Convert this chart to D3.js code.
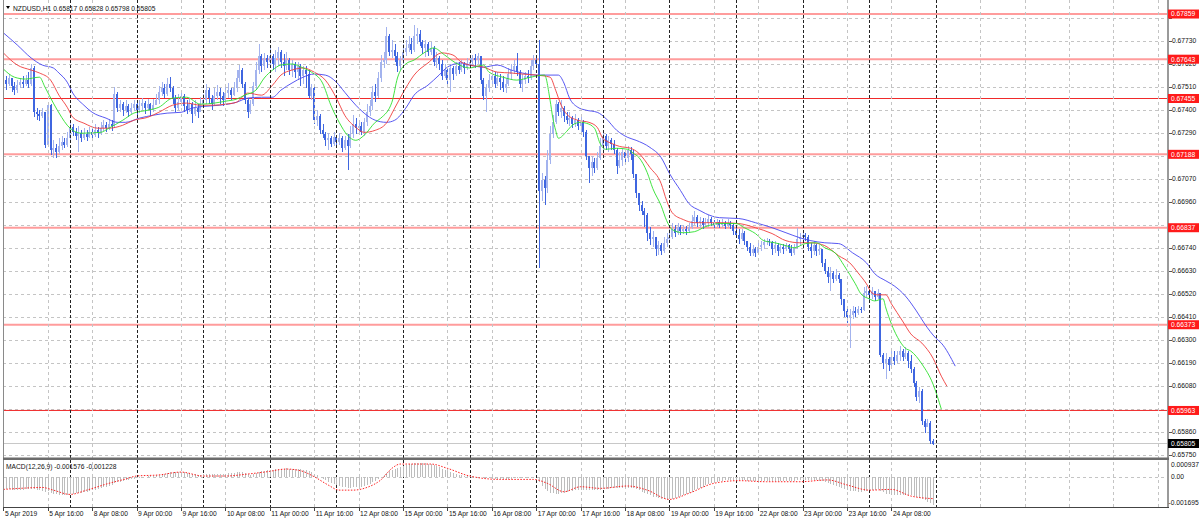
<!DOCTYPE html>
<html><head><meta charset="utf-8">
<script src="https://cdn.jsdelivr.net/npm/d3@7"></script>
<style>body{margin:0;background:#fff;overflow:hidden}svg{display:block;font-family:"Liberation Sans",Arial,sans-serif}</style>
</head><body>
<svg id="c" width="1200" height="523"></svg>
<script>
// ---------- DATA ----------
const symbolTitle = "NZDUSD,H1  0.65817 0.65828 0.65798 0.65805";
const macdTitle = "MACD(12,26,9) -0.001576 -0.001228";
const timeLabels = ["5 Apr 2019","5 Apr 16:00","8 Apr 08:00","9 Apr 00:00","9 Apr 16:00","10 Apr 08:00","11 Apr 00:00","11 Apr 16:00","12 Apr 08:00","15 Apr 00:00","15 Apr 16:00","16 Apr 08:00","17 Apr 00:00","17 Apr 16:00","18 Apr 08:00","19 Apr 00:00","19 Apr 16:00","22 Apr 08:00","23 Apr 00:00","23 Apr 16:00","24 Apr 08:00"];
const timeLabelBars = [0,16,32,48,64,80,96,112,128,144,160,176,192,208,224,240,256,272,288,304,320];
const gridBars = [16,32,48,64,80,96,112,128,144,160,176,192,208,224,240,256,272,288,304,320,336,352,368,384,400,416];
const daySeparatorBars = [24,48,72,96,120,144,168,192,216,240,264,288,312,336];
const priceTicks = ["0.67840","0.67730","0.67620","0.67510","0.67400","0.67290","0.67180","0.67070","0.66960","0.66850","0.66740","0.66630","0.66520","0.66410","0.66300","0.66190","0.66080","0.65970","0.65860","0.65750"];
const levels = [0.67859,0.67643,0.67455,0.67188,0.66837,0.66373,0.65963];
const levelKinds = ["soft","soft","hard","soft","soft","soft","hard"];
const lastPrice = 0.65805;
const macdTicks = ["0.000937","0.00","-0.001695"];
const macdTickVals = [0.000937,0,-0.001695];

const firstOpen = 0.67524;
const closes = [
0.67543,0.67524,0.67553,0.67514,0.67495,0.67519,0.67533,0.67524,0.67543,0.67524,
0.67601,0.67389,0.67380,0.67370,0.67389,0.67231,0.67423,0.67207,0.67217,0.67197,
0.67226,0.67245,0.67231,0.67265,0.67317,0.67293,0.67274,0.67289,0.67265,0.67284,
0.67269,0.67293,0.67279,0.67303,0.67289,0.67313,0.67327,0.67313,0.67332,0.67322,
0.67476,0.67409,0.67428,0.67399,0.67418,0.67389,0.67409,0.67428,0.67399,0.67418,
0.67433,0.67409,0.67428,0.67399,0.67423,0.67447,0.67485,0.67505,0.67476,0.67524,
0.67505,0.67457,0.67409,0.67437,0.67466,0.67418,0.67399,0.67428,0.67380,0.67409,
0.67389,0.67428,0.67447,0.67495,0.67457,0.67428,0.67466,0.67485,0.67466,0.67447,
0.67481,0.67495,0.67471,0.67505,0.67553,0.67591,0.67524,0.67447,0.67389,0.67428,
0.67514,0.67591,0.67658,0.67610,0.67649,0.67629,0.67658,0.67620,0.67649,0.67677,
0.67629,0.67610,0.67639,0.67591,0.67620,0.67581,0.67610,0.67562,0.67591,0.67572,
0.67466,0.67505,0.67351,0.67370,0.67303,0.67284,0.67255,0.67265,0.67236,0.67269,
0.67245,0.67265,0.67217,0.67255,0.67226,0.67284,0.67332,0.67313,0.67322,0.67293,
0.67341,0.67389,0.67418,0.67485,0.67466,0.67553,0.67629,0.67639,0.67754,0.67677,
0.67687,0.67658,0.67610,0.67639,0.67677,0.67697,0.67716,0.67687,0.67754,0.67764,
0.67725,0.67697,0.67716,0.67677,0.67697,0.67629,0.67649,0.67620,0.67562,0.67591,
0.67543,0.67601,0.67572,0.67610,0.67591,0.67620,0.67601,0.67620,0.67629,0.67649,
0.67639,0.67658,0.67543,0.67466,0.67505,0.67543,0.67562,0.67524,0.67553,0.67533,
0.67505,0.67524,0.67572,0.67591,0.67610,0.67581,0.67524,0.67543,0.67562,0.67553,
0.67610,0.67639,0.67620,0.67015,0.67063,0.67025,0.67159,0.67284,0.67341,0.67428,
0.67389,0.67409,0.67370,0.67351,0.67361,0.67332,0.67351,0.67322,0.67341,0.67293,
0.67178,0.67121,0.67149,0.67121,0.67169,0.67226,0.67274,0.67226,0.67255,0.67236,
0.67207,0.67130,0.67159,0.67197,0.67169,0.67207,0.67188,0.67092,0.67005,0.66948,
0.66919,0.66900,0.66813,0.66785,0.66794,0.66737,0.66756,0.66727,0.66765,0.66785,
0.66794,0.66833,0.66813,0.66842,0.66823,0.66833,0.66823,0.66842,0.66871,0.66890,
0.66861,0.66871,0.66852,0.66861,0.66881,0.66861,0.66852,0.66866,0.66852,0.66861,
0.66847,0.66861,0.66852,0.66823,0.66804,0.66785,0.66813,0.66775,0.66746,0.66717,
0.66737,0.66717,0.66746,0.66756,0.66770,0.66775,0.66770,0.66737,0.66756,0.66727,
0.66746,0.66737,0.66756,0.66737,0.66717,0.66746,0.66785,0.66794,0.66804,0.66794,
0.66746,0.66727,0.66756,0.66727,0.66737,0.66669,0.66631,0.66602,0.66621,0.66593,
0.66612,0.66593,0.66497,0.66439,0.66410,0.66420,0.66439,0.66429,0.66449,0.66444,
0.66525,0.66535,0.66516,0.66535,0.66506,0.66525,0.66228,0.66189,0.66209,0.66180,
0.66218,0.66199,0.66228,0.66247,0.66218,0.66237,0.66199,0.66161,0.66093,0.66026,
0.66055,0.65911,0.65882,0.65901,0.65817,0.65805];
const highs = [
0.67572,0.67562,0.67572,0.67553,0.67533,0.67543,0.67553,0.67562,0.67567,0.67581,
0.67620,0.67610,0.67409,0.67399,0.67409,0.67389,0.67437,0.67428,0.67255,0.67236,
0.67265,0.67274,0.67265,0.67293,0.67341,0.67332,0.67313,0.67322,0.67303,0.67313,
0.67303,0.67317,0.67308,0.67332,0.67317,0.67341,0.67351,0.67341,0.67356,0.67351,
0.67509,0.67485,0.67447,0.67437,0.67447,0.67428,0.67433,0.67447,0.67437,0.67447,
0.67457,0.67442,0.67452,0.67433,0.67452,0.67476,0.67514,0.67533,0.67524,0.67553,
0.67557,0.67514,0.67471,0.67476,0.67495,0.67476,0.67447,0.67457,0.67437,0.67447,
0.67428,0.67461,0.67476,0.67524,0.67505,0.67471,0.67505,0.67519,0.67505,0.67485,
0.67514,0.67529,0.67505,0.67533,0.67591,0.67615,0.67601,0.67533,0.67457,0.67447,
0.67533,0.67629,0.67716,0.67668,0.67673,0.67663,0.67697,0.67668,0.67687,0.67701,
0.67687,0.67668,0.67677,0.67649,0.67639,0.67629,0.67629,0.67620,0.67610,0.67610,
0.67591,0.67524,0.67514,0.67399,0.67380,0.67332,0.67293,0.67289,0.67274,0.67293,
0.67279,0.67289,0.67274,0.67274,0.67284,0.67322,0.67375,0.67361,0.67351,0.67341,
0.67361,0.67428,0.67447,0.67514,0.67524,0.67581,0.67663,0.67677,0.67797,0.67764,
0.67735,0.67716,0.67677,0.67658,0.67716,0.67735,0.67754,0.67745,0.67807,0.67793,
0.67783,0.67735,0.67735,0.67725,0.67725,0.67706,0.67677,0.67658,0.67639,0.67620,
0.67601,0.67620,0.67610,0.67629,0.67629,0.67639,0.67629,0.67649,0.67658,0.67663,
0.67668,0.67673,0.67658,0.67553,0.67524,0.67572,0.67591,0.67581,0.67581,0.67572,
0.67562,0.67553,0.67601,0.67620,0.67639,0.67673,0.67591,0.67572,0.67581,0.67591,
0.67639,0.67663,0.67658,0.67735,0.67101,0.67082,0.67207,0.67322,0.67375,0.67447,
0.67437,0.67447,0.67418,0.67389,0.67389,0.67370,0.67380,0.67361,0.67370,0.67351,
0.67303,0.67178,0.67178,0.67169,0.67197,0.67265,0.67303,0.67284,0.67274,0.67265,
0.67255,0.67217,0.67197,0.67217,0.67207,0.67226,0.67221,0.67207,0.67092,0.67005,
0.66967,0.66929,0.66909,0.66842,0.66823,0.66794,0.66775,0.66765,0.66794,0.66813,
0.66833,0.66861,0.66852,0.66861,0.66852,0.66852,0.66847,0.66861,0.66900,0.66919,
0.66900,0.66890,0.66885,0.66885,0.66900,0.66890,0.66876,0.66881,0.66876,0.66881,
0.66871,0.66881,0.66871,0.66861,0.66842,0.66833,0.66833,0.66823,0.66775,0.66765,
0.66756,0.66746,0.66765,0.66775,0.66785,0.66789,0.66785,0.66775,0.66775,0.66765,
0.66761,0.66761,0.66765,0.66761,0.66756,0.66761,0.66837,0.66813,0.66823,0.66813,
0.66804,0.66765,0.66775,0.66761,0.66756,0.66737,0.66689,0.66650,0.66650,0.66631,
0.66641,0.66621,0.66593,0.66497,0.66458,0.66449,0.66463,0.66458,0.66463,0.66458,
0.66554,0.66559,0.66545,0.66554,0.66535,0.66545,0.66525,0.66237,0.66237,0.66218,
0.66247,0.66247,0.66247,0.66271,0.66257,0.66266,0.66247,0.66228,0.66170,0.66103,
0.66074,0.66065,0.65921,0.65921,0.65911,0.65828];
const lows = [
0.67505,0.67495,0.67514,0.67485,0.67471,0.67481,0.67505,0.67505,0.67514,0.67505,
0.67514,0.67365,0.67351,0.67346,0.67361,0.67217,0.67221,0.67183,0.67169,0.67169,
0.67188,0.67207,0.67217,0.67221,0.67255,0.67274,0.67255,0.67197,0.67245,0.67255,
0.67250,0.67265,0.67260,0.67269,0.67265,0.67279,0.67298,0.67293,0.67303,0.67298,
0.67313,0.67389,0.67389,0.67370,0.67385,0.67365,0.67380,0.67394,0.67375,0.67385,
0.67399,0.67380,0.67399,0.67370,0.67389,0.67423,0.67428,0.67466,0.67457,0.67466,
0.67485,0.67428,0.67389,0.67399,0.67418,0.67389,0.67380,0.67389,0.67337,0.67370,
0.67361,0.67399,0.67409,0.67428,0.67428,0.67399,0.67418,0.67447,0.67428,0.67418,
0.67437,0.67457,0.67447,0.67466,0.67485,0.67533,0.67505,0.67428,0.67361,0.67380,
0.67418,0.67495,0.67572,0.67581,0.67591,0.67601,0.67610,0.67591,0.67581,0.67610,
0.67601,0.67562,0.67591,0.67567,0.67557,0.67553,0.67543,0.67514,0.67524,0.67505,
0.67457,0.67447,0.67332,0.67322,0.67284,0.67265,0.67226,0.67207,0.67221,0.67226,
0.67217,0.67231,0.67197,0.67207,0.67111,0.67217,0.67265,0.67284,0.67293,0.67279,
0.67274,0.67322,0.67370,0.67399,0.67437,0.67457,0.67533,0.67601,0.67620,0.67658,
0.67649,0.67629,0.67581,0.67591,0.67620,0.67658,0.67677,0.67668,0.67677,0.67716,
0.67706,0.67668,0.67653,0.67658,0.67663,0.67610,0.67601,0.67591,0.67543,0.67553,
0.67524,0.67485,0.67543,0.67562,0.67572,0.67581,0.67572,0.67591,0.67601,0.67610,
0.67601,0.67620,0.67524,0.67447,0.67389,0.67485,0.67514,0.67505,0.67514,0.67495,
0.67485,0.67481,0.67514,0.67543,0.67572,0.67562,0.67505,0.67485,0.67524,0.67529,
0.67543,0.67591,0.67601,0.66645,0.66967,0.66948,0.67005,0.67140,0.67265,0.67332,
0.67370,0.67361,0.67341,0.67332,0.67322,0.67313,0.67317,0.67303,0.67293,0.67269,
0.67159,0.67053,0.67082,0.67101,0.67111,0.67159,0.67207,0.67207,0.67197,0.67207,
0.67188,0.67092,0.67121,0.67130,0.67140,0.67149,0.67159,0.67073,0.66981,0.66919,
0.66900,0.66842,0.66775,0.66756,0.66746,0.66703,0.66708,0.66708,0.66717,0.66746,
0.66765,0.66785,0.66794,0.66804,0.66804,0.66809,0.66804,0.66813,0.66833,0.66852,
0.66842,0.66837,0.66833,0.66842,0.66842,0.66847,0.66833,0.66842,0.66837,0.66842,
0.66833,0.66842,0.66833,0.66804,0.66789,0.66761,0.66775,0.66756,0.66727,0.66703,
0.66703,0.66698,0.66708,0.66727,0.66737,0.66756,0.66751,0.66708,0.66717,0.66703,
0.66717,0.66713,0.66727,0.66717,0.66703,0.66708,0.66737,0.66756,0.66765,0.66775,
0.66727,0.66693,0.66708,0.66703,0.66708,0.66650,0.66617,0.66573,0.66535,0.66573,
0.66583,0.66573,0.66468,0.66410,0.66381,0.66261,0.66401,0.66410,0.66420,0.66429,
0.66439,0.66506,0.66487,0.66497,0.66487,0.66497,0.66218,0.66161,0.66113,0.66151,
0.66170,0.66180,0.66189,0.66199,0.66199,0.66209,0.66165,0.66141,0.66074,0.66007,
0.65997,0.65892,0.65853,0.65882,0.65801,0.65798];

// Alligator lines: bar index / value
const jawBars = [0,5,10,14,18,20,23,25,29,32,37,41,44,49,54,59,64,68,73,78,84,88,93,97,100,104,108,112,116,120,123,127,130,134,138,141,145,148,153,157,160,165,168,173,178,183,187,192,200,202,204,207,210,214,217,221,225,228,233,237,240,244,247,251,253,258,265,271,277,282,287,291,296,301,306,311,314,318,321,325,329,332,336,338,343];
const jawVals = [0.67769,0.67711,0.67649,0.67615,0.67601,0.67577,0.67533,0.67481,0.67423,0.67389,0.67361,0.67341,0.67341,0.67361,0.67375,0.67385,0.67389,0.67409,0.67418,0.67423,0.67437,0.67457,0.67461,0.67461,0.67495,0.67529,0.67557,0.67572,0.67567,0.67533,0.67485,0.67423,0.67385,0.67351,0.67341,0.67351,0.67409,0.67471,0.67519,0.67567,0.67605,0.67625,0.67615,0.67605,0.67615,0.67591,0.67577,0.67567,0.67567,0.67529,0.67457,0.67413,0.67399,0.67389,0.67361,0.67303,0.67269,0.67255,0.67221,0.67173,0.67097,0.67015,0.66953,0.66919,0.66905,0.66885,0.66881,0.66861,0.66837,0.66813,0.66789,0.66775,0.66765,0.66761,0.66717,0.66669,0.66617,0.66583,0.66559,0.66511,0.66439,0.66377,0.66309,0.66285,0.66175];
const teethBars = [0,5,10,13,17,20,23,25,29,34,38,43,47,52,56,61,66,71,76,80,84,88,93,97,100,104,108,112,116,120,123,127,130,134,138,141,145,148,153,158,162,165,168,173,178,183,187,192,197,199,201,203,207,211,214,216,219,222,226,229,233,237,239,241,245,249,253,259,265,271,277,282,287,291,296,301,305,308,311,313,315,318,320,324,327,331,335,338,340];
const teethVals = [0.67673,0.67615,0.67591,0.67577,0.67543,0.67471,0.67413,0.67365,0.67337,0.67313,0.67313,0.67327,0.67351,0.67365,0.67389,0.67423,0.67433,0.67423,0.67423,0.67428,0.67437,0.67481,0.67471,0.67519,0.67567,0.67591,0.67601,0.67581,0.67543,0.67457,0.67375,0.67317,0.67293,0.67303,0.67337,0.67409,0.67505,0.67567,0.67625,0.67673,0.67663,0.67629,0.67615,0.67605,0.67581,0.67577,0.67572,0.67567,0.67557,0.67495,0.67423,0.67380,0.67351,0.67341,0.67317,0.67265,0.67241,0.67226,0.67217,0.67193,0.67125,0.67049,0.66967,0.66909,0.66876,0.66861,0.66861,0.66861,0.66857,0.66837,0.66809,0.66775,0.66765,0.66765,0.66751,0.66703,0.66669,0.66621,0.66569,0.66525,0.66516,0.66516,0.66473,0.66391,0.66329,0.66285,0.66213,0.66127,0.66079];
const lipsBars = [0,4,8,13,15,18,21,23,25,28,35,38,43,47,52,56,61,66,71,76,80,84,87,91,94,97,100,104,108,111,115,118,121,124,127,130,134,136,140,142,145,148,152,155,159,163,168,173,175,180,185,190,195,197,198,199,200,203,205,208,210,213,215,217,221,225,227,229,232,234,237,239,241,245,249,253,258,264,267,271,274,278,282,285,289,293,296,300,303,307,309,312,314,317,318,320,323,325,327,331,335,338];
const lipsVals = [0.67596,0.67557,0.67548,0.67557,0.67509,0.67433,0.67365,0.67327,0.67303,0.67289,0.67293,0.67313,0.67351,0.67385,0.67399,0.67413,0.67457,0.67461,0.67428,0.67433,0.67442,0.67452,0.67471,0.67495,0.67553,0.67591,0.67615,0.67620,0.67601,0.67581,0.67529,0.67423,0.67341,0.67279,0.67255,0.67279,0.67341,0.67361,0.67437,0.67553,0.67620,0.67639,0.67677,0.67697,0.67663,0.67625,0.67601,0.67615,0.67581,0.67557,0.67543,0.67557,0.67567,0.67447,0.67361,0.67303,0.67265,0.67298,0.67327,0.67341,0.67337,0.67313,0.67241,0.67212,0.67217,0.67212,0.67193,0.67173,0.67101,0.67025,0.66943,0.66871,0.66828,0.66813,0.66818,0.66842,0.66857,0.66857,0.66837,0.66809,0.66775,0.66765,0.66751,0.66741,0.66761,0.66765,0.66741,0.66713,0.66655,0.66569,0.66521,0.66497,0.66487,0.66497,0.66453,0.66377,0.66295,0.66261,0.66247,0.66185,0.66089,0.65969];

// MACD main (histogram), one value per bar, in units of 1e-5
const macdHist = [
-70,-71,-71,-72,-73,-73,-72,-72,-71,-70,-66,-70,-74,-77,-79,-84,-82,-90,-95,-99,
-101,-102,-102,-100,-97,-95,-93,-91,-89,-86,-83,-80,-77,-73,-69,-65,-60,-56,-50,-45,
-36,-32,-28,-25,-21,-18,-15,-12,-8,-5,-2,0,3,4,6,8,11,14,17,21,
24,25,24,24,26,25,22,20,16,14,12,12,13,15,15,14,15,17,17,16,
18,20,20,22,24,27,25,20,14,12,15,20,27,30,33,36,39,40,42,45,
46,46,47,46,46,44,43,41,40,38,32,28,18,10,0,-10,-20,-28,-36,-43,
-48,-52,-57,-60,-63,-63,-60,-58,-57,-56,-52,-46,-40,-32,-25,-14,-2,8,22,30,
38,44,50,56,61,65,69,71,76,79,79,78,76,73,70,66,60,54,46,40,
32,27,21,17,12,9,6,4,3,2,1,1,-2,-6,-8,-9,-10,-10,-11,-11,
-12,-13,-12,-11,-9,-8,-8,-9,-8,-7,-5,-3,-4,-30,-52,-69,-81,-89,-93,-95,
-95,-93,-89,-85,-81,-78,-76,-74,-72,-72,-74,-76,-77,-77,-75,-73,-70,-68,-66,-64,
-63,-64,-64,-63,-62,-62,-61,-64,-70,-77,-84,-91,-98,-105,-111,-116,-121,-125,-127,-128,
-127,-124,-120,-115,-110,-104,-98,-91,-84,-77,-70,-63,-56,-49,-43,-37,-32,-28,-24,-22,
-20,-18,-17,-17,-18,-19,-20,-21,-22,-24,-25,-26,-26,-25,-24,-23,-22,-22,-22,-23,
-23,-23,-22,-22,-23,-22,-21,-19,-18,-17,-18,-19,-20,-21,-22,-26,-31,-37,-42,-47,
-51,-55,-61,-68,-74,-78,-80,-82,-83,-83,-80,-78,-76,-74,-72,-70,-80,-88,-94,-99,
-102,-104,-105,-105,-105,-104,-104,-105,-108,-113,-117,-125,-133,-140,-148,-157.6].map(v => v * 1e-5);
const signalBars = [0,6,14,18,24,30,38,44,48,56,64,72,80,88,95,102,107,112,117,121,126,131,136,140,143,154,160,168,179,191,196,202,208,215,225,232,240,247,256,265,275,287,297,304,312,320,327,335];
const signalVals = [-0.00071,-0.00065,-0.00060,-0.00075,-0.00099,-0.00075,-0.00037,-0.00013,0.00004,0.00010,0.00026,0.00004,0.00004,0.00015,0.00028,0.00043,0.00034,0.00000,-0.00046,-0.00075,-0.00075,-0.00060,-0.00018,0.00047,0.00071,0.00071,0.00047,0.00004,-0.00015,-0.00015,-0.00037,-0.00084,-0.00056,-0.00065,-0.00052,-0.00075,-0.00127,-0.00093,-0.00037,-0.00022,-0.00028,-0.00028,-0.00018,-0.00046,-0.00075,-0.00071,-0.00108,-0.001228];

// ---------- LAYOUT / STYLE ----------
const L = 3, R = 1167, MAIN_B = 457, MT = 460, MB = 507;
const col = {bear:"#3f66e0", bull:"#a3b3ee", jaw:"#4646f0", teeth:"#f03c3c", lips:"#2ee02e",
  grid:"#c4c4c4", sep:"#222", hist:"#bdbdbd", frame:"#8a8a8a"};
const levelStyle = {soft:{stroke:"#ff9c9c", w:2}, hard:{stroke:"#f02a2a", w:1}};
const fs = 6.7;

const svg = d3.select("#c");
const x = d3.scaleLinear().domain([0, 336]).range([3.4, 935.8]);
const y = d3.scaleLinear().domain([0.6575, 0.6784]).range([455, 18]);
const ym = d3.scaleLinear().domain([-0.001695, 0.000937]).range([MB, MT]);

svg.append("defs").append("clipPath").attr("id","cm").append("rect").attr("x",L).attr("y",0).attr("width",R-L).attr("height",MAIN_B);
svg.append("defs").append("clipPath").attr("id","cd").append("rect").attr("x",L).attr("y",MT).attr("width",R-L).attr("height",MB-MT);

const px = v => Math.round(v) + 0.5;

// grid: horizontal
const gMain = svg.append("g").attr("clip-path","url(#cm)");
gMain.selectAll("line.hg").data(priceTicks).join("line")
  .attr("x1",L).attr("x2",R).attr("y1",d=>px(y(+d))).attr("y2",d=>px(y(+d)))
  .attr("stroke",col.grid).attr("stroke-dasharray","3,3");
// grid: vertical (both panels)
svg.selectAll("line.vg").data(gridBars.filter(b=>!daySeparatorBars.includes(b))).join("line")
  .attr("x1",d=>px(x(d))).attr("x2",d=>px(x(d))).attr("y1",0).attr("y2",MB)
  .attr("stroke",col.grid).attr("stroke-dasharray","3,3");
// macd zero grid
svg.append("line").attr("x1",L).attr("x2",R).attr("y1",px(ym(0))).attr("y2",px(ym(0)))
  .attr("stroke",col.grid).attr("stroke-dasharray","3,3");
// day separators
svg.selectAll("line.ds").data(daySeparatorBars).join("line")
  .attr("x1",d=>px(x(d))).attr("x2",d=>px(x(d))).attr("y1",0).attr("y2",MB)
  .attr("stroke",col.sep).attr("stroke-dasharray","3,2");

// level lines
gMain.selectAll("line.lv").data(levels).join("line")
  .attr("x1",L).attr("x2",R).attr("y1",d=>y(d)).attr("y2",d=>y(d))
  .attr("stroke",(d,i)=>levelStyle[levelKinds[i]].stroke).attr("stroke-width",(d,i)=>levelStyle[levelKinds[i]].w);
// last price line
gMain.append("line").attr("x1",L).attr("x2",R).attr("y1",px(y(lastPrice))).attr("y2",px(y(lastPrice)))
  .attr("stroke","#c8c8c8");

// candles
const bars = closes.map((c,i)=>({i, o: i===0?firstOpen:closes[i-1], c, h: highs[i], l: lows[i]}));
const gC = gMain.append("g").attr("shape-rendering","crispEdges");
gC.selectAll("line.w").data(bars).join("line")
  .attr("x1",d=>px(x(d.i))).attr("x2",d=>px(x(d.i))).attr("y1",d=>y(d.h)).attr("y2",d=>y(d.l))
  .attr("stroke",d=>d.c>=d.o?col.bull:col.bear);
gC.selectAll("rect.b").data(bars).join("rect")
  .attr("x",d=>Math.round(x(d.i))-1).attr("width",2)
  .attr("y",d=>Math.min(y(d.o),y(d.c))).attr("height",d=>Math.max(1,Math.abs(y(d.o)-y(d.c))))
  .attr("fill",d=>d.c>=d.o?col.bull:col.bear);

// alligator
const lineGen = d3.line().x(d=>x(d[0])).y(d=>y(d[1])).curve(d3.curveMonotoneX);
[[jawBars,jawVals,col.jaw],[teethBars,teethVals,col.teeth],[lipsBars,lipsVals,col.lips]].forEach(([b,v,c])=>{
  gMain.append("path").datum(b.map((bb,k)=>[bb,v[k]])).attr("d",lineGen)
    .attr("fill","none").attr("stroke",c).attr("stroke-width",1).attr("opacity",0.9);
});

// MACD
const gD = svg.append("g").attr("clip-path","url(#cd)");
gD.selectAll("line.h").data(macdHist).join("line").attr("shape-rendering","crispEdges")
  .attr("x1",(d,i)=>px(x(i))).attr("x2",(d,i)=>px(x(i))).attr("y1",ym(0)).attr("y2",d=>ym(d))
  .attr("stroke",col.hist);
const sigGen = d3.line().x(d=>x(d[0])).y(d=>ym(d[1])).curve(d3.curveMonotoneX);
gD.append("path").datum(signalBars.map((b,k)=>[b,signalVals[k]])).attr("d",sigGen)
  .attr("fill","none").attr("stroke","#ff2020").attr("stroke-width",1).attr("stroke-dasharray","1.5,1.5");

// frames
svg.append("line").attr("x1",L+0.5).attr("x2",L+0.5).attr("y1",0).attr("y2",MB).attr("stroke",col.frame);
svg.append("rect").attr("x",R).attr("y",0).attr("width",2).attr("height",MB+1).attr("fill","#9a9a9a");
svg.append("rect").attr("x",L).attr("y",MAIN_B+0.5).attr("width",R-L+2).attr("height",2.5).attr("fill","#6c6c6c");
svg.append("line").attr("x1",L).attr("x2",R+2).attr("y1",MB+0.5).attr("y2",MB+0.5).attr("stroke","#444");

// right price axis (tick labels hidden under a level tag are not drawn, as in the reference)
const ax = svg.append("g").attr("font-size",fs).attr("fill","#111");
const tagYs = levels.concat([lastPrice]).map(v=>y(v));
priceTicks.forEach(t=>{
  const yy = y(+t);
  ax.append("line").attr("x1",R+2).attr("x2",R+5).attr("y1",px(yy)).attr("y2",px(yy)).attr("stroke","#555");
  if (tagYs.some(ty=>Math.abs(ty-yy) < 4.5)) return;
  ax.append("text").attr("x",1172).attr("y",yy).attr("dy","0.35em").text(t);
});
levels.forEach(l=>{
  const yy = y(l);
  ax.append("rect").attr("x",R+1).attr("y",yy-4.5).attr("width",31).attr("height",9).attr("fill","#ff1a1a");
  ax.append("text").attr("x",1171).attr("y",yy).attr("dy","0.35em").attr("fill","#fff").text(l.toFixed(5));
});
{
  const yy = y(lastPrice);
  ax.append("rect").attr("x",R+1).attr("y",yy-4.5).attr("width",31).attr("height",9).attr("fill","#000");
  ax.append("text").attr("x",1171).attr("y",yy).attr("dy","0.35em").attr("fill","#fff").text(lastPrice.toFixed(5));
}
// macd axis
macdTicks.forEach((t,k)=>{
  const v = macdTickVals[k];
  let yy = ym(v); if (k===0) yy += 5; if (k===2) yy -= 4;
  ax.append("text").attr("x",k===2?1168.5:1171).attr("y",yy).attr("dy","0.35em").text(t);
});

// time axis
const tx = svg.append("g").attr("font-size",fs).attr("fill","#111");
timeLabels.forEach((t,k)=>{
  const xx = x(timeLabelBars[k]);
  tx.append("line").attr("x1",px(xx)).attr("x2",px(xx)).attr("y1",MB).attr("y2",MB+4).attr("stroke","#444");
  tx.append("text").attr("x",xx+1.5).attr("y",516).text(t);
});

// titles
svg.append("path").attr("d","M6,6 L10,6 L8,9 Z").attr("fill","#000");
svg.append("text").attr("x",13).attr("y",10.5).attr("font-size",fs).attr("fill","#111").text(symbolTitle);
svg.append("text").attr("x",6).attr("y",469).attr("font-size",fs).attr("fill","#111").text(macdTitle);
</script>
</body></html>
